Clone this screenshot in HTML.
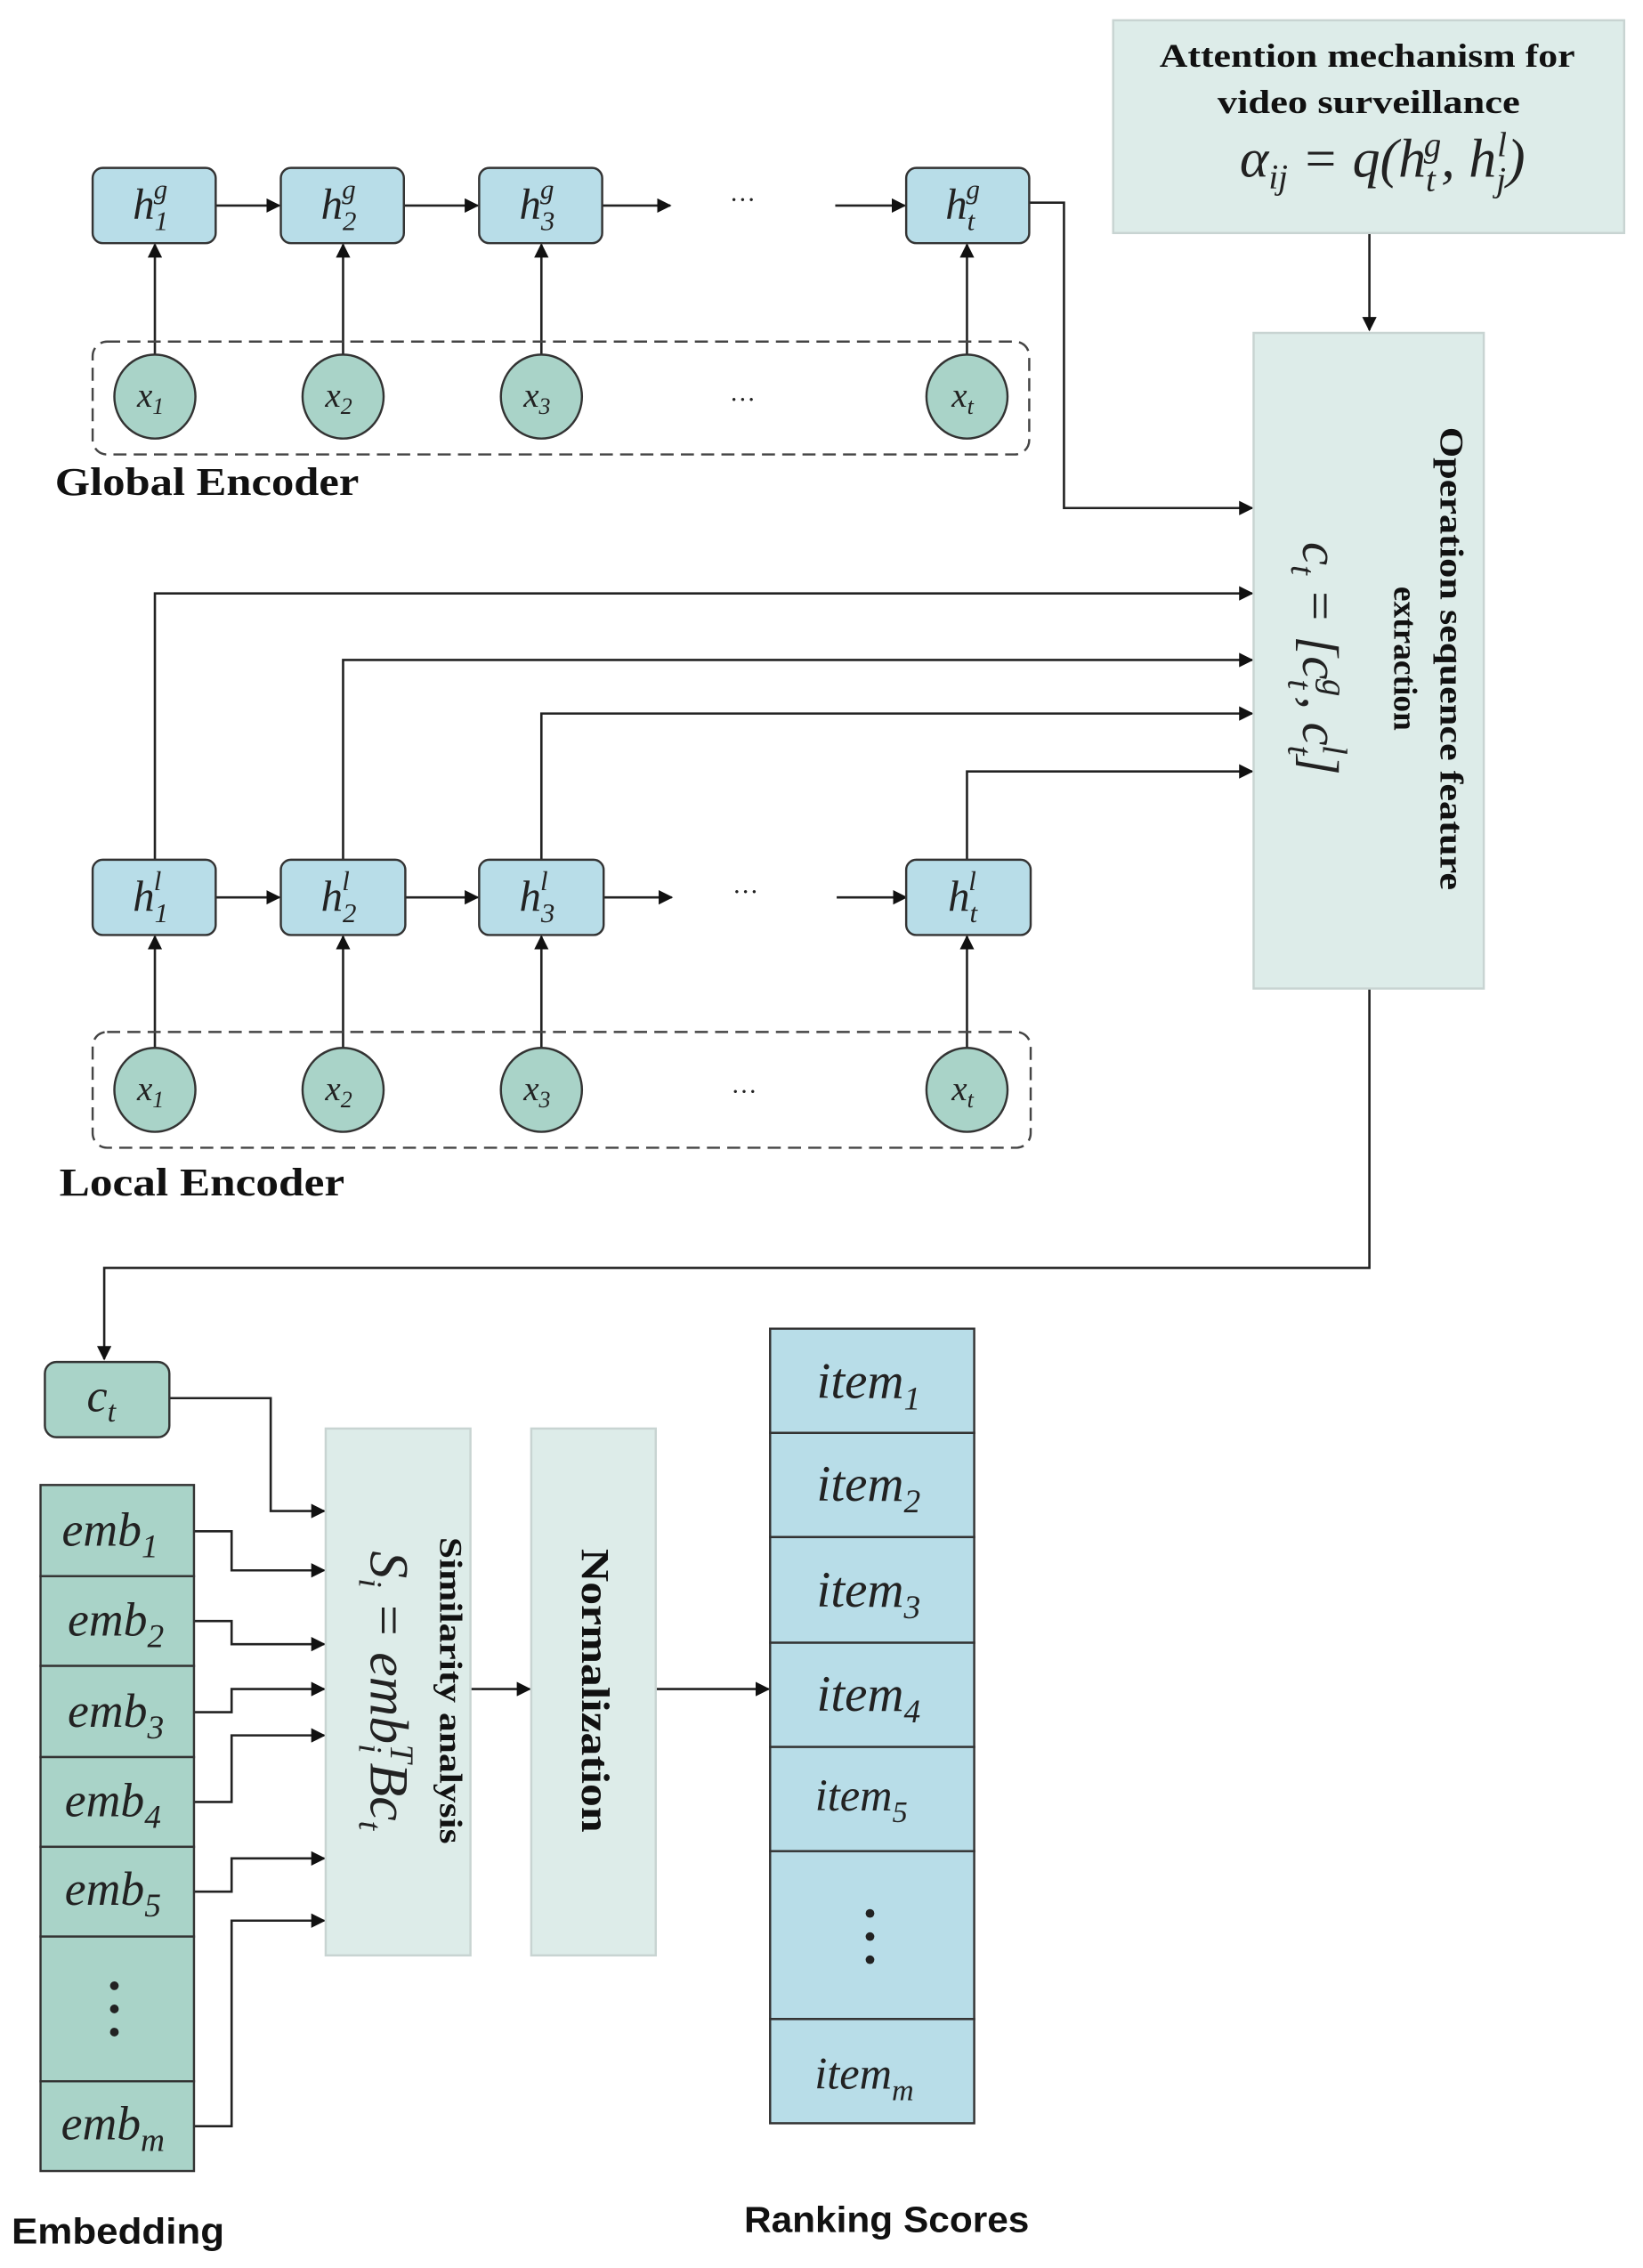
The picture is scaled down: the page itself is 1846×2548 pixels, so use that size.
<!DOCTYPE html>
<html><head><meta charset="utf-8"><style>
html,body{margin:0;padding:0;background:#fff}
svg{display:block}
.m{font-family:"Liberation Serif",serif;font-style:italic;fill:#222}
.b{font-family:"Liberation Serif",serif;font-weight:bold;fill:#111}
</style></head><body>
<svg width="1846" height="2548" viewBox="0 0 1135 1567" preserveAspectRatio="none" xmlns="http://www.w3.org/2000/svg">
<defs><marker id="a" markerWidth="10" markerHeight="10" refX="9" refY="5" orient="auto" markerUnits="userSpaceOnUse"><path d="M0,0 L10,5 L0,10 z" fill="#111"/></marker></defs>
<rect width="1135" height="1567" fill="#fff"/>
<g stroke="#222" stroke-width="1.6" fill="none" marker-end="url(#a)">
<line x1="149" y1="142" x2="193" y2="142"/><line x1="279" y1="142" x2="330" y2="142"/><line x1="416" y1="142" x2="463" y2="142"/><line x1="577" y1="142" x2="625" y2="142"/>
<line x1="107" y1="246" x2="107" y2="169"/><line x1="237" y1="246" x2="237" y2="169"/><line x1="374" y1="246" x2="374" y2="169"/><line x1="668" y1="246" x2="668" y2="169"/>
<polyline points="711,140 735,140 735,351 865,351"/>
<line x1="946" y1="161" x2="946" y2="228"/>
<line x1="149" y1="620" x2="193" y2="620"/><line x1="280" y1="620" x2="330" y2="620"/><line x1="417" y1="620" x2="464" y2="620"/><line x1="578" y1="620" x2="626" y2="620"/>
<line x1="107" y1="725" x2="107" y2="647"/><line x1="237" y1="725" x2="237" y2="647"/><line x1="374" y1="725" x2="374" y2="647"/><line x1="668" y1="725" x2="668" y2="647"/>
<polyline points="107,594 107,410 865,410"/><polyline points="237,594 237,456 865,456"/><polyline points="374,594 374,493 865,493"/><polyline points="668,594 668,533 865,533"/>
<polyline points="946,683 946,876 72,876 72,939"/>
<polyline points="117,966 187,966 187,1044 224,1044"/>
<polyline points="134,1058 160,1058 160,1085 224,1085"/>
<polyline points="134,1120 160,1120 160,1136 224,1136"/>
<polyline points="134,1183 160,1183 160,1167 224,1167"/>
<polyline points="134,1245 160,1245 160,1199 224,1199"/>
<polyline points="134,1307 160,1307 160,1284 224,1284"/>
<polyline points="134,1469 160,1469 160,1327 224,1327"/>
<line x1="325" y1="1167" x2="366" y2="1167"/><line x1="453" y1="1167" x2="531" y2="1167"/>
</g>
<rect x="64" y="236" width="647" height="78" rx="10" fill="none" stroke="#444" stroke-width="1.5" stroke-dasharray="9,5"/>
<rect x="64" y="713" width="648" height="80" rx="10" fill="none" stroke="#444" stroke-width="1.5" stroke-dasharray="9,5"/>
<g fill="#b8dde8" stroke="#333" stroke-width="1.5">
<rect x="64" y="116" width="85" height="52" rx="7"/><rect x="194" y="116" width="85" height="52" rx="7"/><rect x="331" y="116" width="85" height="52" rx="7"/><rect x="626" y="116" width="85" height="52" rx="7"/>
<rect x="64" y="594" width="85" height="52" rx="7"/><rect x="194" y="594" width="86" height="52" rx="7"/><rect x="331" y="594" width="86" height="52" rx="7"/><rect x="626" y="594" width="86" height="52" rx="7"/>
</g>
<g fill="#a9d3c8" stroke="#333" stroke-width="1.5">
<ellipse cx="107" cy="274" rx="28" ry="29"/><ellipse cx="237" cy="274" rx="28" ry="29"/><ellipse cx="374" cy="274" rx="28" ry="29"/><ellipse cx="668" cy="274" rx="28" ry="29"/>
<ellipse cx="107" cy="753" rx="28" ry="29"/><ellipse cx="237" cy="753" rx="28" ry="29"/><ellipse cx="374" cy="753" rx="28" ry="29"/><ellipse cx="668" cy="753" rx="28" ry="29"/>
<rect x="31" y="941" width="86" height="52" rx="8"/>
</g>
<g class="m" font-size="30" text-anchor="middle">
<text x="104" y="151">h<tspan font-size="19" dy="8">1</tspan><tspan font-size="19" dx="-10" dy="-22">g</tspan></text>
<text x="234" y="151">h<tspan font-size="19" dy="8">2</tspan><tspan font-size="19" dx="-10" dy="-22">g</tspan></text>
<text x="371" y="151">h<tspan font-size="19" dy="8">3</tspan><tspan font-size="19" dx="-10" dy="-22">g</tspan></text>
<text x="665" y="151">h<tspan font-size="19" dy="8">t</tspan><tspan font-size="19" dx="-6" dy="-22">g</tspan></text>
<text x="104" y="629">h<tspan font-size="19" dy="8">1</tspan><tspan font-size="19" dx="-10" dy="-22">l</tspan></text>
<text x="234" y="629">h<tspan font-size="19" dy="8">2</tspan><tspan font-size="19" dx="-10" dy="-22">l</tspan></text>
<text x="371" y="629">h<tspan font-size="19" dy="8">3</tspan><tspan font-size="19" dx="-10" dy="-22">l</tspan></text>
<text x="665" y="629">h<tspan font-size="19" dy="8">t</tspan><tspan font-size="19" dx="-6" dy="-22">l</tspan></text>
</g>
<g class="m" font-size="24" text-anchor="middle">
<text x="104" y="281">x<tspan font-size="16" dy="5">1</tspan></text><text x="234" y="281">x<tspan font-size="16" dy="5">2</tspan></text><text x="371" y="281">x<tspan font-size="16" dy="5">3</tspan></text><text x="665" y="281">x<tspan font-size="16" dy="5">t</tspan></text>
<text x="104" y="760">x<tspan font-size="16" dy="5">1</tspan></text><text x="234" y="760">x<tspan font-size="16" dy="5">2</tspan></text><text x="371" y="760">x<tspan font-size="16" dy="5">3</tspan></text><text x="665" y="760">x<tspan font-size="16" dy="5">t</tspan></text>
<text x="70" y="975" font-size="32">c<tspan font-size="21" dy="7">t</tspan></text>
</g>
<g font-family="Liberation Serif,serif" font-size="18" fill="#222" text-anchor="middle">
<text x="513" y="144">···</text><text x="513" y="282">···</text><text x="515" y="622">···</text><text x="514" y="760">···</text>
</g>
<text class="b" x="38" y="342" font-size="27" textLength="210" lengthAdjust="spacingAndGlyphs">Global Encoder</text>
<text class="b" x="41" y="826" font-size="27" textLength="197" lengthAdjust="spacingAndGlyphs">Local Encoder</text>
<rect x="769" y="14" width="353" height="147" fill="#ddece9" stroke="#c8d4d2" stroke-width="1.5"/>
<text class="b" x="801" y="46" font-size="23" textLength="287" lengthAdjust="spacingAndGlyphs">Attention mechanism for</text>
<text class="b" x="841" y="78" font-size="23" textLength="209" lengthAdjust="spacingAndGlyphs">video surveillance</text>
<text class="m" x="955" y="122" font-size="38" text-anchor="middle">α<tspan font-size="24" dy="8">ij</tspan><tspan dy="-8"> = q(h</tspan><tspan font-size="24" dy="10">t</tspan><tspan font-size="24" dx="-8" dy="-24">g</tspan><tspan dy="14">, h</tspan><tspan font-size="24" dy="10">j</tspan><tspan font-size="24" dx="-6" dy="-24">l</tspan><tspan dy="14">)</tspan></text>
<rect x="866" y="230" width="159" height="453" fill="#ddece9" stroke="#c8d4d2" stroke-width="1.5"/>
<g transform="translate(995,455) rotate(90)"><text class="b" x="-160" y="0" font-size="23" textLength="320" lengthAdjust="spacingAndGlyphs">Operation sequence feature</text></g>
<g transform="translate(963,455) rotate(90)"><text class="b" x="0" y="0" font-size="23" text-anchor="middle">extraction</text></g>
<g transform="translate(900,455) rotate(90)"><text class="m" x="0" y="0" font-size="36" text-anchor="middle">c<tspan font-size="24" dy="8">t</tspan><tspan dy="-8"> = [c</tspan><tspan font-size="24" dy="10">t</tspan><tspan font-size="24" dx="-7" dy="-24">g</tspan><tspan dy="14">, c</tspan><tspan font-size="24" dy="10">t</tspan><tspan font-size="24" dx="-7" dy="-24">l</tspan><tspan dy="14">]</tspan></text></g>
<g fill="#a9d3c8" stroke="#333" stroke-width="1.5">
<rect x="28" y="1026" width="106" height="63"/><rect x="28" y="1089" width="106" height="62"/><rect x="28" y="1151" width="106" height="63"/><rect x="28" y="1214" width="106" height="62"/><rect x="28" y="1276" width="106" height="62"/><rect x="28" y="1338" width="106" height="100"/><rect x="28" y="1438" width="106" height="62"/>
</g>
<g class="m" font-size="33" text-anchor="middle">
<text x="76" y="1068">emb<tspan font-size="23" dy="8">1</tspan></text>
<text x="80" y="1130">emb<tspan font-size="23" dy="8">2</tspan></text>
<text x="80" y="1193">emb<tspan font-size="23" dy="8">3</tspan></text>
<text x="78" y="1255">emb<tspan font-size="23" dy="8">4</tspan></text>
<text x="78" y="1316">emb<tspan font-size="23" dy="8">5</tspan></text>
<text x="78" y="1478">emb<tspan font-size="23" dy="8">m</tspan></text>
</g>
<g fill="#222"><circle cx="79" cy="1372" r="3"/><circle cx="79" cy="1388" r="3"/><circle cx="79" cy="1404" r="3"/></g>
<rect x="225" y="987" width="100" height="364" fill="#ddece9" stroke="#c8d4d2" stroke-width="1.5"/>
<rect x="367" y="987" width="86" height="364" fill="#ddece9" stroke="#c8d4d2" stroke-width="1.5"/>
<g transform="translate(256,1168) rotate(90)"><text class="m" x="0" y="0" font-size="38" text-anchor="middle">S<tspan font-size="23" dy="8">i</tspan><tspan dy="-8"> = emb</tspan><tspan font-size="23" dy="8">i</tspan><tspan font-size="23" dx="-6" dy="-22">T</tspan><tspan dy="14">Bc</tspan><tspan font-size="23" dy="8">t</tspan></text></g>
<g transform="translate(304,1168) rotate(90)"><text class="b" x="-106" y="0" font-size="22" textLength="212" lengthAdjust="spacingAndGlyphs">Similarity analysis</text></g>
<g transform="translate(402,1168) rotate(90)"><text class="b" x="-98" y="0" font-size="27" textLength="196" lengthAdjust="spacingAndGlyphs">Normalization</text></g>
<g fill="#b8dde8" stroke="#333" stroke-width="1.5">
<rect x="532" y="918" width="141" height="72"/><rect x="532" y="990" width="141" height="72"/><rect x="532" y="1062" width="141" height="73"/><rect x="532" y="1135" width="141" height="72"/><rect x="532" y="1207" width="141" height="72"/><rect x="532" y="1279" width="141" height="116"/><rect x="532" y="1395" width="141" height="72"/>
</g>
<g class="m" font-size="35" text-anchor="middle">
<text x="600" y="966">item<tspan font-size="23" dy="8">1</tspan></text>
<text x="600" y="1037">item<tspan font-size="23" dy="8">2</tspan></text>
<text x="600" y="1110">item<tspan font-size="23" dy="8">3</tspan></text>
<text x="600" y="1182">item<tspan font-size="23" dy="8">4</tspan></text>
<text x="595" y="1251" font-size="31">item<tspan font-size="21" dy="8">5</tspan></text>
<text x="597" y="1443" font-size="31">item<tspan font-size="21" dy="8">m</tspan></text>
</g>
<g fill="#222"><circle cx="601" cy="1322" r="3"/><circle cx="601" cy="1338" r="3"/><circle cx="601" cy="1354" r="3"/></g>
<text x="8" y="1550" font-family="Liberation Sans,sans-serif" font-weight="bold" font-size="25" fill="#111" textLength="147" lengthAdjust="spacingAndGlyphs">Embedding</text>
<text x="514" y="1542" font-family="Liberation Sans,sans-serif" font-weight="bold" font-size="25" fill="#111" textLength="197" lengthAdjust="spacingAndGlyphs">Ranking Scores</text>
</svg>
</body></html>
